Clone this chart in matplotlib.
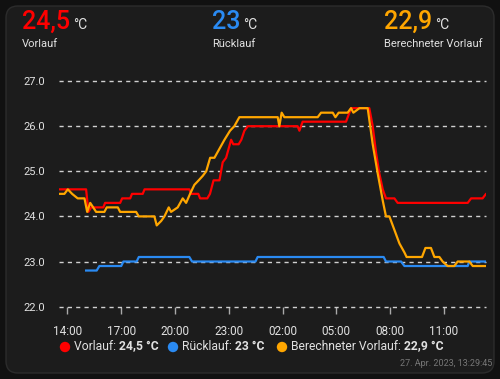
import matplotlib
matplotlib.use("Agg")
import matplotlib.pyplot as plt
from matplotlib.patches import FancyBboxPatch, Circle

plt.rcParams['font.family'] = ['Roboto', 'DejaVu Sans']

# time in hours since 00:00 of 26. Apr (values > 24 are the next day)
vorlauf_t = [13.51, 15.04, 15.17, 15.32, 16.00, 16.10, 16.94, 17.05, 17.50, 17.60, 18.20, 18.30,
             20.80, 20.90, 21.30, 21.40, 21.80, 21.95, 22.15, 22.48, 22.66, 22.85, 23.13, 23.25,
             23.55, 23.70, 23.87, 24.06, 26.84, 26.94, 27.12, 29.54, 29.73, 29.82, 30.84, 31.03,
             31.22, 31.40, 31.59, 31.77, 32.24, 32.42, 36.33, 36.52, 37.16, 37.35, 37.44]
vorlauf_v = [24.6, 24.6, 24.1, 24.2, 24.2, 24.3, 24.3, 24.4, 24.4, 24.5, 24.5, 24.6,
             24.6, 24.5, 24.5, 24.4, 24.4, 24.5, 24.8, 24.8, 25.2, 25.3, 25.7, 25.6,
             25.6, 25.7, 25.9, 26.0, 26.0, 25.9, 26.1, 26.1, 26.3, 26.4, 26.4, 26.0,
             25.4, 24.95, 24.6, 24.4, 24.4, 24.3, 24.3, 24.4, 24.4, 24.5, 24.5]

ruecklauf_t = [15.04, 15.63, 15.78, 17.00, 17.12, 17.86, 17.98, 20.80, 20.95, 24.49, 24.61,
               31.64, 31.77, 32.61, 32.80, 36.33, 36.42, 37.44]
ruecklauf_v = [22.8, 22.8, 22.9, 22.9, 23.0, 23.0, 23.1, 23.1, 23.0, 23.0, 23.1,
               23.1, 23.0, 23.0, 22.9, 22.9, 23.0, 23.0]

berechnet_t = [13.51, 13.83, 14.02, 14.26, 14.57, 14.95, 15.10, 15.27, 15.60, 16.06, 16.19,
               16.81, 16.94, 17.83, 17.98, 18.85, 18.98, 19.23, 19.41, 19.65, 19.78, 20.15,
               20.43, 20.62, 20.84, 21.08, 21.32, 21.55, 21.74, 21.96, 22.20, 22.48, 22.76,
               23.07, 23.31, 23.59, 25.73, 25.82, 25.95, 26.10, 27.96, 28.15, 28.80, 28.95,
               29.13, 29.63, 29.82, 29.95, 30.29, 30.75, 31.03, 31.31, 31.59, 31.77, 31.96,
               32.24, 32.52, 32.80, 32.92, 33.78, 33.97, 34.28, 34.47, 34.75, 34.93, 35.21,
               35.58, 35.77, 36.42, 36.61, 37.44]
berechnet_v = [24.5, 24.5, 24.6, 24.5, 24.4, 24.4, 24.1, 24.3, 24.1, 24.1, 24.2,
               24.2, 24.1, 24.1, 24.0, 24.0, 23.8, 23.9, 24.0, 24.2, 24.1, 24.2,
               24.4, 24.3, 24.5, 24.7, 24.8, 24.9, 25.0, 25.3, 25.3, 25.5, 25.7,
               25.9, 26.0, 26.2, 26.2, 26.0, 26.3, 26.2, 26.2, 26.3, 26.3, 26.2,
               26.3, 26.3, 26.4, 26.3, 26.4, 26.4, 25.6, 24.95, 24.35, 24.0, 24.0,
               23.7, 23.4, 23.2, 23.1, 23.1, 23.3, 23.3, 23.1, 23.1, 23.0, 22.9,
               22.9, 23.0, 23.0, 22.9, 22.9]

tick_hours = [14, 17, 20, 23, 26, 29, 32, 35]
tick_labels = ['14:00', '17:00', '20:00', '23:00', '02:00', '05:00', '08:00', '11:00']
y_ticks = [22.0, 23.0, 24.0, 25.0, 26.0, 27.0]

names = ['Vorlauf', 'Rücklauf', 'Berechneter Vorlauf']
current = ['24,5', '23', '22,9']
colors = ['#ff0000', '#2a8af2', '#ffa600']

bg_outer = '#111111'
bg_card = '#1c1c1c'
txt = '#e1e1e1'
grid_c = '#d0d0d0'

W, H = 5.0, 3.79
fig = plt.figure(figsize=(W, H), dpi=100, facecolor=bg_outer)
card = FancyBboxPatch((0.06, 0.06), W - 0.12, H - 0.12, boxstyle='round,pad=0,rounding_size=0.12',
                      transform=fig.dpi_scale_trans, facecolor=bg_card, edgecolor='#2c2c2c',
                      linewidth=1, zorder=-10)
fig.patches.append(card)

# header values
head_x = [0.044, 0.424, 0.768]
for x, name, val, c in zip(head_x, names, current, colors):
    t = fig.text(x, 1 - 29 / 379, val, color=c, fontsize=18, fontweight='medium', va='baseline')
    fig.canvas.draw()
    bb = t.get_window_extent()
    fig.text(bb.x1 / 500 + 0.006, 1 - 29 / 379, '°C', color=txt, fontsize=10, va='baseline')
    fig.text(x, 1 - 47 / 379, name, color=txt, fontsize=8, va='baseline')

ax = fig.add_axes([0.117, 0.191, 0.855, 0.595])
ax.set_facecolor('none')
ax.plot(vorlauf_t, vorlauf_v, color=colors[0], lw=1.6, zorder=3)
ax.plot(ruecklauf_t, ruecklauf_v, color=colors[1], lw=1.6, zorder=3)
ax.plot(berechnet_t, berechnet_v, color=colors[2], lw=1.6, zorder=4)

ax.set_xlim(13.5, 37.35)
ax.set_ylim(22.0, 27.0)
ax.set_yticks(y_ticks)
ax.set_yticklabels(['%.1f' % v for v in y_ticks])
ax.set_xticks(tick_hours)
ax.set_xticklabels(tick_labels)
ax.yaxis.grid(True, color=grid_c, linestyle=(0, (3, 3)), linewidth=1)
ax.set_axisbelow(True)
for s in ax.spines.values():
    s.set_visible(False)
ax.tick_params(axis='y', length=0, pad=10, labelcolor=txt, labelsize=8)
ax.tick_params(axis='x', length=5, width=1, color='#aaaaaa', pad=8, labelcolor=txt, labelsize=8.5)
for ln in ax.get_ygridlines():
    ln.set_clip_on(False)

# legend
leg_x = [0.13, 0.346, 0.564]
leg_y = 1 - 347 / 379
for x, name, val, c in zip(leg_x, names, current, colors):
    fig.patches.append(Circle((x * W, leg_y * H), 0.052, transform=fig.dpi_scale_trans,
                              facecolor=c, edgecolor='none'))
    t1 = fig.text(x + 0.018, leg_y, name + ': ', color=txt, fontsize=8.7, va='center')
    fig.canvas.draw()
    bb = t1.get_window_extent()
    fig.text(bb.x1 / 500, leg_y, val + ' °C', color=txt, fontsize=8.7, va='center',
             fontweight='bold')

fig.text(0.984, 1 - 363 / 379, '27. Apr. 2023, 13:29:45', color='#777777', fontsize=6.5,
         ha='right', va='center')

fig.savefig('out.png', dpi=100, facecolor=bg_outer)
